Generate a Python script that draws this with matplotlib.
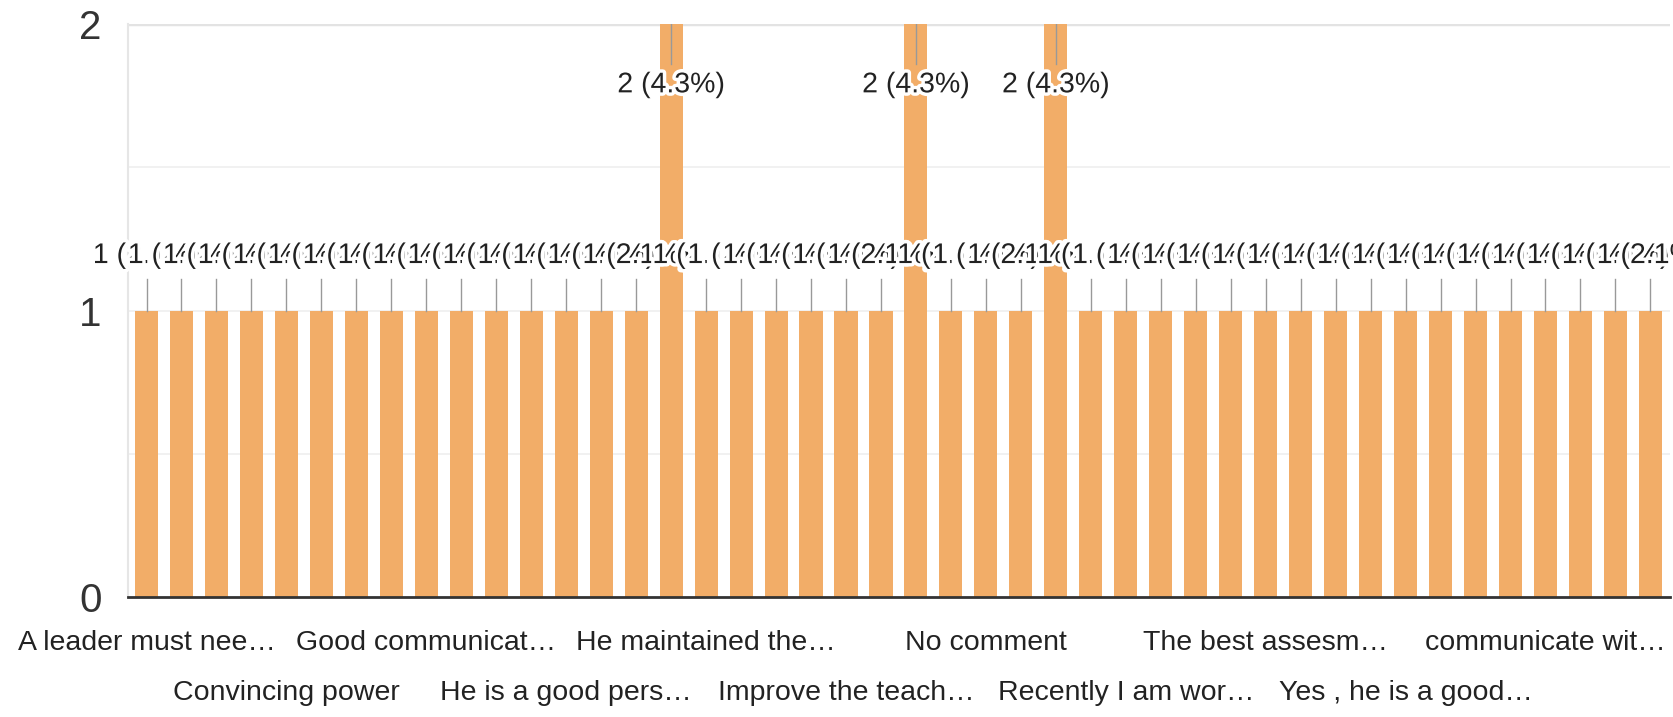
import matplotlib
matplotlib.use("Agg")
import matplotlib.pyplot as plt
import matplotlib.patheffects as pe
import numpy as np

# responses per answer (alphabetical order, 44 distinct answers)
counts = [1, 1, 1, 1, 1, 1, 1, 1, 1, 1, 1, 1, 1, 1, 1, 2,
          1, 1, 1, 1, 1, 1, 2, 1, 1, 1, 2, 1, 1, 1, 1, 1,
          1, 1, 1, 1, 1, 1, 1, 1, 1, 1, 1, 1]
# only every 4th answer gets a label on the axis
shown_labels = ["A leader must nee\u2026", "Convincing power", "Good communicat\u2026",
                "He is a good pers\u2026", "He maintained the\u2026", "Improve the teach\u2026",
                "No comment", "Recently I am wor\u2026", "The best assesm\u2026",
                "Yes , he is a good\u2026", "communicate wit\u2026"]
yticks = [0, 1, 2]

plt.rcParams['font.family'] = ['Liberation Sans', 'DejaVu Sans']

bar_color = '#f2ad68'
total = sum(counts)
x = np.arange(len(counts))

fig = plt.figure(figsize=(16.73, 7.17), dpi=100)
ax = fig.add_axes([0.0765, 0.1667, 0.9215, 0.8003])

ax.bar(x, counts, width=0.66, color=bar_color, zorder=2)
ax.set_xlim(-0.53, len(counts) - 0.45)
ax.set_ylim(0, 2)

# grid
for g in [0.5, 1.0, 1.5]:
    ax.axhline(g, color='#efefef', lw=1.2, zorder=1)
ax.axhline(2, color='#e3e3e3', lw=2.5, zorder=1)

for s in ['top', 'right']:
    ax.spines[s].set_visible(False)
ax.spines['left'].set_color('#e6e6e6')
ax.spines['left'].set_linewidth(1.5)
ax.spines['bottom'].set_color('#333333')
ax.spines['bottom'].set_linewidth(2)
ax.spines['bottom'].set_zorder(3)

ax.set_yticks(yticks)
ax.set_yticklabels([str(t) for t in yticks], fontsize=29, color='#333333')
ax.tick_params(axis='y', length=0, pad=19)
ax.set_xticks([])

# category labels in two alternating rows
for i, lab in enumerate(shown_labels):
    pos = i * 4
    off = -46 if i % 2 == 0 else -96
    ax.annotate(lab, xy=(pos, 0), xycoords=('data', 'axes fraction'),
                xytext=(0, off), textcoords='offset pixels',
                ha='center', va='center', fontsize=20.5, color='#222222')

# value labels with leader lines
halo = [pe.withStroke(linewidth=5, foreground='white')]
for xi, c in zip(x, counts):
    txt = "%d (%.1f%%)" % (c, 100.0 * c / total)
    if c == 1:
        ax.plot([xi, xi], [1.0, 1.11], color='#999999', lw=1, zorder=2.5)
        ax.text(xi, 1.19, txt, ha='center', va='center', fontsize=20.5,
                color='#222222', zorder=4, path_effects=halo)
    else:
        ax.plot([xi, xi], [1.86, 2.0], color='#999999', lw=1, zorder=2.5)
        ax.text(xi, 1.785, txt, ha='center', va='center', fontsize=20.5,
                color='#222222', zorder=4, path_effects=halo)

plt.savefig("out.png", dpi=100)
